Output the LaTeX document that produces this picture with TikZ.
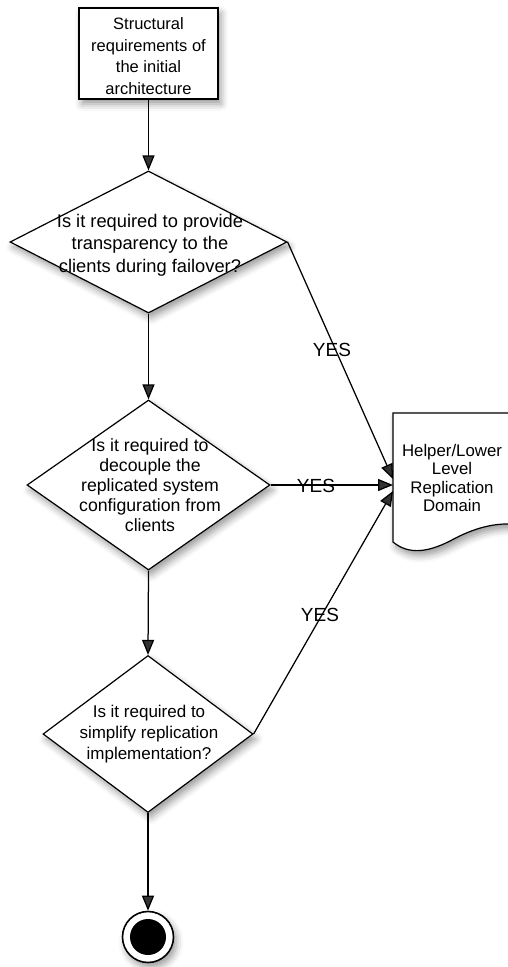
\documentclass[tikz,border=0pt]{standalone}
\usepackage{fontspec}
\setmainfont{Liberation Sans}
\usetikzlibrary{shapes.geometric,arrows.meta,shadows.blur}

\tikzset{
  softshadow/.style={blur shadow={shadow xshift=3pt, shadow yshift=-5pt,
      shadow blur radius=7pt, shadow opacity=40}},
  flow/.style={line width=1.25pt, -{Triangle[length=15pt,width=12pt]}},
  outline/.style={draw, line width=1.2pt, fill=white, softshadow},
  decision/.style={diamond, outline, inner sep=0pt},
  qtext/.style={align=center, inner sep=0pt,
      font=\fontsize{16.5}{21.5}\selectfont},
  yestext/.style={inner sep=0pt, font=\fontsize{19}{22}\selectfont},
}

\begin{document}
\begin{tikzpicture}[x=1pt, y=-1pt]
  \useasboundingbox (0,0) rectangle (507,967);

  % start box
  \node[outline, minimum width=139pt, minimum height=91pt, inner sep=0pt]
    (start) at (148.5,53.5) {};
  \node[qtext] (starttext) at (148.5,56)
    {Structural\\requirements of\\the initial\\architecture};

  % decisions
  \node[decision, minimum width=277pt, minimum height=142pt] (d1) at (148.5,242) {};
  \node[qtext, font=\fontsize{18.3}{22.5}\selectfont] (q1) at (150,245)
    {Is it required to provide\\transparency to the\\clients during failover?};

  \node[decision, minimum width=243pt, minimum height=170pt] (d2) at (148.5,485) {};
  \node[qtext, font=\fontsize{17.7}{20}\selectfont] (q2) at (150,485)
    {Is it required to\\decouple the\\replicated system\\configuration from\\clients};

  \node[decision, minimum width=210pt, minimum height=157pt] (d3) at (148,734) {};
  \node[qtext, font=\fontsize{17}{21}\selectfont] (q3) at (149,734)
    {Is it required to\\simplify replication\\implementation?};

  % document shape
  \draw[outline] (393,413) -- (513,413) -- (513,524)
    .. controls (490,523) and (470,530) .. (450,541)
    .. controls (430,551) and (410,556) .. (393,542) -- cycle;
  \node[qtext, font=\fontsize{16.8}{18.5}\selectfont] (doc) at (452,478)
    {Helper/Lower\\Level\\Replication\\Domain};
  \coordinate (in1) at (393,479);
  \coordinate (in2) at (393,485);
  \coordinate (in3) at (393,491);

  % final state
  \node[circle, outline, line width=1.6pt, minimum size=51pt, inner sep=0pt]
    (stop) at (148,937) {};
  \node[circle, fill=black, minimum size=36pt, inner sep=0pt] (stopdot) at (stop) {};

  % connectors
  \draw[flow] (start.south) -- (d1.north);
  \draw[flow] (d1.south) -- (d2.north);
  \draw[flow] (d2.south) -- (d3.north);
  \draw[flow] (d3.south) -- (stop.north);
  \draw[flow] (d1.east) -- (in1);
  \draw[flow] (d2.east) -- (in2);
  \draw[flow] (d3.east) -- (in3);

  % branch labels
  \node[yestext] (yes1) at (332,350) {YES};
  \node[yestext] (yes2) at (316,486) {YES};
  \node[yestext] (yes3) at (320,615) {YES};
\end{tikzpicture}
\end{document}
